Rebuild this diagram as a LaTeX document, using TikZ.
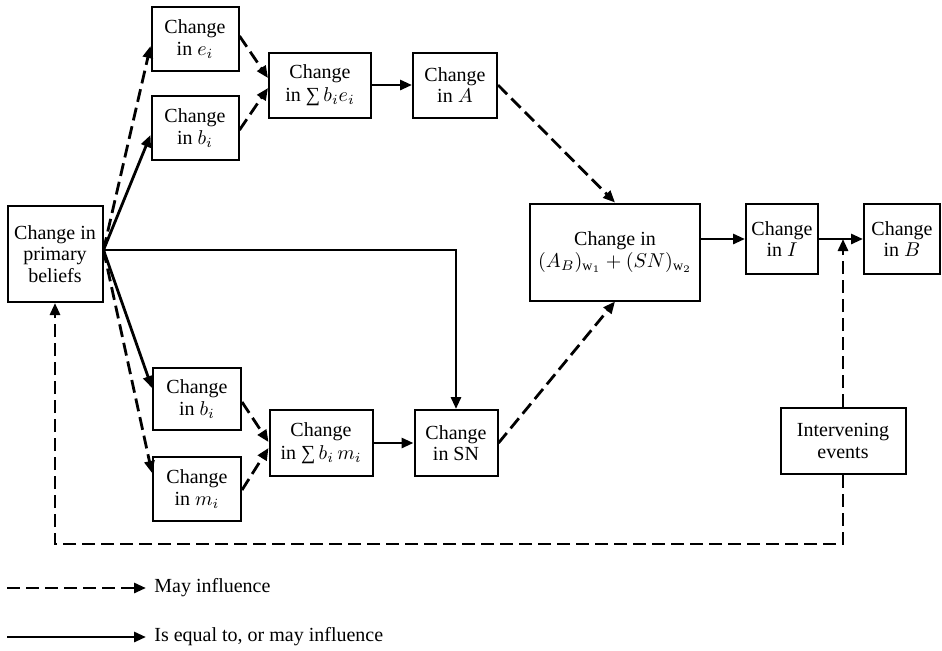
\documentclass[tikz,border=0pt]{standalone}
\usepackage{fontspec}
\setmainfont{Liberation Serif}
\usetikzlibrary{arrows.meta,calc}

\begin{document}
\begin{tikzpicture}[
		x=0.5pt, y=-0.5pt,
		every node/.style={font=\fontsize{10}{10.8}\selectfont},
		box/.style={draw, line width=1pt, align=center, inner sep=1pt},
		arrow/.style={-{Triangle[length=6pt,width=5pt]}, line width=1.4pt},
		maybe/.style={arrow, dash pattern=on 6.5pt off 3pt},
	]
	\useasboundingbox (0,0) rectangle (942,650);

	\node[box, minimum width=47.5pt, minimum height=48pt] (pb) at (55,254) {Change in\\primary\\beliefs};
	\node[box, minimum width=43.5pt, minimum height=32pt] (ei) at (195,39) {Change\\in $e_i$};
	\node[box, minimum width=43.5pt, minimum height=32pt] (bi) at (195,128) {Change\\in $b_i$};
	\node[box, minimum width=51pt, minimum height=32.5pt] (sume) at (320,85) {Change\\[1pt]in ∑\,$b_i e_i$};
	\node[box, minimum width=42pt, minimum height=32.5pt] (att) at (455,85) {Change\\in $A$};
	\node[box, minimum width=85pt, minimum height=48.5pt] (ab) at (615,252) {Change in\\$(A_B)_{\mathrm{w}_1}+(SN)_{\mathrm{w}_2}$};
	\node[box, minimum width=36pt, minimum height=35pt] (int) at (782,239) {Change\\in $I$};
	\node[box, minimum width=38pt, minimum height=35pt] (beh) at (902,239) {Change\\in $B$};
	\node[box, minimum width=44pt, minimum height=31pt] (bm) at (197,399) {Change\\in $b_i$};
	\node[box, minimum width=44pt, minimum height=32pt] (mi) at (197,489) {Change\\in $m_i$};
	\node[box, minimum width=51.5pt, minimum height=33pt] (summ) at (321,443) {Change\\[1pt]in ∑\,$b_i\,m_i$};
	\node[box, minimum width=41.5pt, minimum height=33pt] (sn) at (456,443) {Change\\in SN};
	\node[box, minimum width=62.5pt, minimum height=33pt] (iev) at (843,441) {Intervening\\events};

	\coordinate (fan) at ($(pb.east)+(0,-4)$);
	\coordinate (join) at (iev.north |- int.east);

	\draw[maybe] (fan) -- ($(ei.west)+(0,7)$);
	\draw[arrow] (fan) -- ($(bi.west)+(0,7)$);
	\draw[arrow] (fan) -- ($(bm.west)+(0,-11)$);
	\draw[maybe] (fan) -- ($(mi.west)+(0,-16)$);
	\draw[arrow] (fan) -| (sn.north);

	\draw[maybe] ($(ei.east)+(0,-3)$) -- ($(sume.west)+(0,-7)$);
	\draw[maybe] ($(bi.east)+(0,2)$) -- ($(sume.west)+(0,3)$);
	\draw[arrow] (sume) -- (att);
	\draw[maybe] (att.east) -- (ab.north);

	\draw[maybe] ($(bm.east)+(0,3)$) -- ($(summ.west)+(0,-1)$);
	\draw[maybe] ($(mi.east)+(0,1)$) -- ($(summ.west)+(0,5)$);
	\draw[arrow] (summ) -- (sn);
	\draw[maybe] (sn.east) -- (ab.south);

	\draw[arrow] (ab.east |- int.west) -- (int.west);
	\draw[arrow] (int) -- (beh);
	\draw[maybe] (iev.north) -- (join);
	\draw[maybe] (iev.south) -- ++(0,69) -| (pb.south);

	% legend
	\coordinate (ls1) at (7,588);
	\coordinate (ls2) at (7,637);
	\node[anchor=west, inner sep=4pt] (leg1) at (146,588) {May influence};
	\node[anchor=west, inner sep=4pt] (leg2) at (146,637) {Is equal to, or may influence};
	\draw[maybe] (ls1) -- (leg1.west);
	\draw[arrow] (ls2) -- (leg2.west);
\end{tikzpicture}
\end{document}
